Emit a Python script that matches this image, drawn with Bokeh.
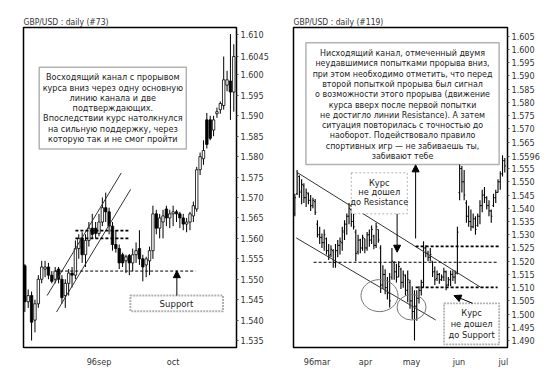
from bokeh.plotting import figure
from bokeh.layouts import row
from bokeh.models import Range1d, FixedTicker, BoxAnnotation, Label, Arrow, NormalHead, ColumnDataSource
from bokeh.core.properties import value
from bokeh.embed import file_html
from bokeh.resources import INLINE

FONT = "'DejaVu Sans Condensed', 'Liberation Sans', sans-serif"

# ---------------- Left panel (#73): daily candles ----------------
L_open = [1.5533, 1.5445, 1.5460, 1.5400, 1.5440, 1.5500, 1.5525, 1.5530, 1.5510, 1.5500,
          1.5525, 1.5500, 1.5460, 1.5490, 1.5515, 1.5510, 1.5575, 1.5600, 1.5560, 1.5595,
          1.5625, 1.5625, 1.5612, 1.5640, 1.5675, 1.5665, 1.5630, 1.5585, 1.5575, 1.5560,
          1.5545, 1.5558, 1.5540, 1.5560, 1.5575, 1.5550, 1.5535, 1.5545, 1.5570, 1.5660,
          1.5625, 1.5640, 1.5672, 1.5650, 1.5660, 1.5665, 1.5660, 1.5650, 1.5635, 1.5640,
          1.5655, 1.5672, 1.5768, 1.5795, 1.5890, 1.5890, 1.5865, 1.5905, 1.5915, 1.5925,
          1.5975, 1.5985, 1.5958]
L_high = [1.5537, 1.5475, 1.5470, 1.5450, 1.5510, 1.5545, 1.5545, 1.5540, 1.5520, 1.5530,
          1.5530, 1.5510, 1.5500, 1.5525, 1.5530, 1.5595, 1.5610, 1.5615, 1.5610, 1.5640,
          1.5660, 1.5640, 1.5660, 1.5700, 1.5712, 1.5675, 1.5640, 1.5620, 1.5585, 1.5565,
          1.5560, 1.5562, 1.5575, 1.5590, 1.5620, 1.5560, 1.5555, 1.5580, 1.5680, 1.5670,
          1.5660, 1.5670, 1.5680, 1.5670, 1.5680, 1.5670, 1.5665, 1.5660, 1.5650, 1.5665,
          1.5690, 1.5775, 1.5810, 1.5840, 1.5907, 1.5900, 1.5900, 1.5920, 1.5935, 1.6045,
          1.6010, 1.6100, 1.6075]
L_low = [1.5420, 1.5430, 1.5350, 1.5370, 1.5430, 1.5490, 1.5505, 1.5500, 1.5490, 1.5490,
         1.5490, 1.5440, 1.5430, 1.5460, 1.5480, 1.5500, 1.5550, 1.5540, 1.5530, 1.5580,
         1.5600, 1.5600, 1.5605, 1.5630, 1.5640, 1.5610, 1.5570, 1.5565, 1.5525, 1.5530,
         1.5515, 1.5510, 1.5520, 1.5540, 1.5535, 1.5495, 1.5505, 1.5510, 1.5550, 1.5610,
         1.5600, 1.5600, 1.5630, 1.5625, 1.5630, 1.5640, 1.5625, 1.5620, 1.5615, 1.5620,
         1.5640, 1.5665, 1.5755, 1.5780, 1.5820, 1.5840, 1.5850, 1.5895, 1.5905, 1.5915,
         1.5960, 1.5890, 1.5910]
L_close = [1.5445, 1.5460, 1.5395, 1.5440, 1.5500, 1.5530, 1.5530, 1.5510, 1.5495, 1.5520,
           1.5500, 1.5455, 1.5490, 1.5515, 1.5510, 1.5575, 1.5600, 1.5560, 1.5595, 1.5625,
           1.5610, 1.5612, 1.5640, 1.5675, 1.5665, 1.5630, 1.5585, 1.5575, 1.5540, 1.5540,
           1.5555, 1.5540, 1.5560, 1.5570, 1.5550, 1.5530, 1.5550, 1.5570, 1.5660, 1.5625,
           1.5650, 1.5655, 1.5650, 1.5660, 1.5665, 1.5660, 1.5650, 1.5635, 1.5640, 1.5660,
           1.5680, 1.5768, 1.5800, 1.5815, 1.5830, 1.5845, 1.5890, 1.5910, 1.5930, 1.5988,
           1.5988, 1.5958, 1.6045]
L_xticks = [22, 44]
L_xlabels = ["96sep", "oct"]
L_yticks = [1.535, 1.540, 1.545, 1.550, 1.555, 1.560, 1.565, 1.570, 1.575, 1.580,
            1.585, 1.590, 1.595, 1.600, 1.6045, 1.610]
L_ylabels = ["1.535", "1.540", "1.545", "1.550", "1.555", "1.560", "1.565", "1.570", "1.575", "1.580",
             "1.585", "1.590", "1.595", "1.600", "1.6045", "1.610"]
L_title = "GBP/USD : daily   (#73)"
L_note = ["Восходящий канал с прорывом",
          "курса вниз через одну основную",
          "линию канала и две",
          "подтверждающих.",
          "Впоследствии курс натолкнулся",
          "на сильную поддержку, через",
          "которую так и не смог пройти"]

# ---------------- Right panel (#119): daily OHLC bars ----------------
R_open = [1.5380, 1.5455, 1.5520, 1.5465, 1.5485, 1.5440, 1.5455, 1.5430, 1.5410, 1.5425,
          1.5340, 1.5300, 1.5290, 1.5270, 1.5285, 1.5240, 1.5225, 1.5240, 1.5195, 1.5240,
          1.5260, 1.5270, 1.5310, 1.5340, 1.5370, 1.5395, 1.5350, 1.5310, 1.5235, 1.5280,
          1.5250, 1.5285, 1.5250, 1.5300, 1.5280, 1.5295, 1.5260, 1.5320, 1.5250, 1.5110,
          1.5150, 1.5100, 1.5080, 1.5140, 1.5195, 1.5160, 1.5140, 1.5170, 1.5120, 1.5145,
          1.5090, 1.5120, 1.5050, 1.5010, 1.5030, 1.5060, 1.5090, 1.5120, 1.5250, 1.5230,
          1.5215, 1.5200, 1.5160, 1.5135, 1.5150, 1.5130, 1.5140, 1.5160, 1.5110, 1.5130,
          1.5150, 1.5140, 1.5155, 1.5460, 1.5550, 1.5500, 1.5420, 1.5370, 1.5350, 1.5330,
          1.5360, 1.5335, 1.5370, 1.5410, 1.5450, 1.5440, 1.5410, 1.5390, 1.5410, 1.5440,
          1.5460, 1.5500, 1.5530, 1.5580]
R_high = [1.5455, 1.5545, 1.5525, 1.5510, 1.5495, 1.5475, 1.5460, 1.5450, 1.5440, 1.5435,
          1.5355, 1.5330, 1.5305, 1.5320, 1.5290, 1.5265, 1.5260, 1.5245, 1.5265, 1.5280,
          1.5290, 1.5330, 1.5355, 1.5380, 1.5420, 1.5400, 1.5380, 1.5320, 1.5300, 1.5285,
          1.5300, 1.5285, 1.5310, 1.5320, 1.5335, 1.5300, 1.5345, 1.5320, 1.5260, 1.5185,
          1.5170, 1.5140, 1.5155, 1.5250, 1.5200, 1.5190, 1.5200, 1.5175, 1.5165, 1.5150,
          1.5165, 1.5130, 1.5105, 1.5090, 1.5090, 1.5105, 1.5130, 1.5275, 1.5260, 1.5240,
          1.5250, 1.5200, 1.5180, 1.5165, 1.5155, 1.5150, 1.5175, 1.5165, 1.5140, 1.5165,
          1.5165, 1.5165, 1.5330, 1.5575, 1.5560, 1.5545, 1.5430, 1.5410, 1.5395, 1.5380,
          1.5370, 1.5380, 1.5430, 1.5470, 1.5480, 1.5445, 1.5430, 1.5395, 1.5455, 1.5470,
          1.5510, 1.5540, 1.5600, 1.5590]
R_low = [1.5370, 1.5450, 1.5440, 1.5415, 1.5420, 1.5405, 1.5415, 1.5390, 1.5400, 1.5375,
         1.5290, 1.5265, 1.5250, 1.5240, 1.5225, 1.5205, 1.5215, 1.5175, 1.5175, 1.5215,
         1.5225, 1.5240, 1.5280, 1.5300, 1.5340, 1.5330, 1.5320, 1.5200, 1.5225, 1.5230,
         1.5240, 1.5230, 1.5240, 1.5255, 1.5265, 1.5245, 1.5250, 1.5270, 1.5080, 1.5095,
         1.5075, 1.5055, 1.5025, 1.5130, 1.5130, 1.5120, 1.5140, 1.5095, 1.5100, 1.5070,
         1.5045, 1.5020, 1.4980, 1.4900, 1.4975, 1.5040, 1.5070, 1.5100, 1.5215, 1.5200,
         1.5200, 1.5140, 1.5110, 1.5125, 1.5115, 1.5125, 1.5125, 1.5090, 1.5105, 1.5105,
         1.5125, 1.5115, 1.5150, 1.5430, 1.5460, 1.5430, 1.5345, 1.5330, 1.5315, 1.5325,
         1.5300, 1.5330, 1.5340, 1.5385, 1.5420, 1.5395, 1.5370, 1.5345, 1.5405, 1.5420,
         1.5460, 1.5470, 1.5520, 1.5535]
R_close = [1.5440, 1.5530, 1.5460, 1.5490, 1.5440, 1.5460, 1.5430, 1.5410, 1.5430, 1.5385,
           1.5300, 1.5290, 1.5270, 1.5300, 1.5240, 1.5220, 1.5245, 1.5195, 1.5240, 1.5260,
           1.5275, 1.5315, 1.5340, 1.5370, 1.5400, 1.5350, 1.5330, 1.5230, 1.5280, 1.5250,
           1.5290, 1.5250, 1.5300, 1.5280, 1.5320, 1.5260, 1.5330, 1.5280, 1.5110, 1.5150,
           1.5100, 1.5080, 1.5050, 1.5200, 1.5160, 1.5140, 1.5180, 1.5120, 1.5150, 1.5090,
           1.5130, 1.5050, 1.5010, 1.5030, 1.5060, 1.5090, 1.5120, 1.5250, 1.5230, 1.5215,
           1.5225, 1.5160, 1.5130, 1.5150, 1.5130, 1.5140, 1.5160, 1.5110, 1.5130, 1.5150,
           1.5140, 1.5155, 1.5310, 1.5550, 1.5500, 1.5450, 1.5370, 1.5350, 1.5330, 1.5360,
           1.5320, 1.5370, 1.5410, 1.5450, 1.5440, 1.5410, 1.5390, 1.5370, 1.5440, 1.5460,
           1.5500, 1.5530, 1.5580, 1.5560]
R_xticks = [9.8, 31.3, 51.7, 72.7, 92.4]
R_xlabels = ["96mar", "apr", "may", "jun", "jul"]
R_yticks = [1.490, 1.495, 1.500, 1.505, 1.510, 1.515, 1.520, 1.525, 1.530, 1.535, 1.540,
            1.545, 1.550, 1.555, 1.5596, 1.565, 1.570, 1.575, 1.580, 1.585, 1.590, 1.595,
            1.600, 1.605]
R_ylabels = ["1.490", "1.495", "1.500", "1.505", "1.510", "1.515", "1.520", "1.525", "1.530",
             "1.535", "1.540", "1.545", "1.550", "1.555", "1.5596", "1.565", "1.570", "1.575",
             "1.580", "1.585", "1.590", "1.595", "1.600", "1.605"]
R_title = "GBP/USD : daily   (#119)"
R_note = ["Нисходящий канал, отмеченный двумя",
          "неудавшимися попытками прорыва вниз,",
          "при этом необходимо отметить, что перед",
          "второй попыткой прорыва был сигнал",
          "о возможности этого прорыва (движение",
          "курса вверх после первой попытки",
          "не достигло линии Resistance). А затем",
          "ситуация повторилась с точностью до",
          "наоборот. Подействовало правило",
          "спортивных игр — не забиваешь ты,",
          "забивают тебе"]
R_res_note = ["Курс", "не дошел", "до Resistance"]
R_sup_note = ["Курс", "не дошел", "до Support"]


def style(p, xticks, xlabels, yticks, ylabels, title):
    p.title.text = title
    p.title.text_font = FONT
    p.title.text_font_size = "8.5px"
    p.title.text_font_style = "normal"
    p.title.text_color = "#333333"
    p.title.align = "left"
    p.title.standoff = 1
    p.xgrid.visible = False
    p.ygrid.visible = False
    p.outline_line_color = "black"
    p.outline_line_width = 1.5
    p.background_fill_color = "white"
    p.border_fill_color = "white"
    xa = p.xaxis[0]
    xa.ticker = FixedTicker(ticks=xticks)
    xa.major_label_overrides = dict(zip(xticks, xlabels))
    xa.axis_line_color = None
    xa.major_tick_line_color = None
    xa.minor_tick_line_color = None
    xa.major_label_standoff = 3
    xa.major_label_text_font = FONT
    xa.major_label_text_font_size = "9px"
    xa.major_label_text_color = "#333333"
    ya = p.yaxis[0]
    ya.ticker = FixedTicker(ticks=yticks)
    ya.major_label_overrides = dict(zip(yticks, ylabels))
    ya.axis_line_color = None
    ya.major_tick_out = 2
    ya.major_tick_in = 0
    ya.major_tick_line_color = "#555555"
    ya.minor_tick_line_color = None
    ya.major_label_standoff = 2
    ya.major_label_text_font = FONT
    ya.major_label_text_font_size = "9px"
    ya.major_label_text_color = "#333333"


def add_lines(p, x, y, lines, size, step):
    for k, t in enumerate(lines):
        p.add_layout(Label(x=x, y=y - k * step, text=t, text_align="center", text_baseline="middle",
                           text_font=FONT, text_font_size=size, text_color="#222222"))


# ---------- Left figure ----------
p1 = figure(width=280, height=373, x_range=Range1d(-0.4, 62.8), y_range=Range1d(1.5333, 1.6116),
            output_backend="svg", toolbar_location=None, y_axis_location="right",
            min_border_left=23, min_border_right=44, min_border_top=27, min_border_bottom=26)
style(p1, L_xticks, L_xlabels, L_yticks, L_ylabels, L_title)

lx = list(range(len(L_open)))
src1 = ColumnDataSource(dict(
    x=lx, o=L_open, h=L_high, l=L_low, c=L_close,
    top=[max(a, b) for a, b in zip(L_open, L_close)],
    bot=[min(a, b) for a, b in zip(L_open, L_close)],
    fill=["white" if c >= o else "black" for o, c in zip(L_open, L_close)]))
p1.segment(x0="x", y0="l", x1="x", y1="h", source=src1, line_color="black", line_width=1)
p1.vbar(x="x", width=0.72, top="top", bottom="bot", fill_color="fill", line_color="black",
        line_width=0.8, source=src1)

# channel lines
p1.segment(x0=[6.6, 9.4], y0=[1.5460, 1.5420], x1=[28.6, 31.4], y1=[1.5760, 1.5720],
           line_color="#333333", line_width=1)
# short dashed lines
p1.segment(x0=[15, 15], y0=[1.5619, 1.5600], x1=[31.1, 31.1], y1=[1.5619, 1.5600],
           line_color="black", line_width=1.8, line_dash="3 2")
# support line
p1.segment(x0=[9.0], y0=[1.5520], x1=[50.6], y1=[1.5520], line_color="black", line_width=1,
           line_dash="3 2")

p1.add_layout(BoxAnnotation(left=4.26, right=47.9, top=1.6019, bottom=1.5819, fill_color="white",
                            fill_alpha=1, line_color="black", line_width=1.5))
add_lines(p1, 26.1, 1.5994, L_note, "9px", 0.002512)

p1.add_layout(BoxAnnotation(left=31.3, right=58.8, top=1.5460, bottom=1.5422, fill_color="white",
                            fill_alpha=1, line_color="black", line_width=2, line_dash="2 1"))
p1.add_layout(Label(x=45.0, y=1.5441, text="Support", text_align="center", text_baseline="middle",
                    text_font=FONT, text_font_size="9.5px", text_color="#222222"))
p1.add_layout(Arrow(x_start=45.1, y_start=1.5460, x_end=45.1, y_end=1.5521, line_color="black",
                    line_width=1, end=NormalHead(size=7, fill_color="black", line_color="black")))

# ---------- Right figure ----------
p2 = figure(width=278, height=373, x_range=Range1d(-0.6, 94.2), y_range=Range1d(1.4874, 1.6083),
            output_backend="svg", toolbar_location=None, y_axis_location="right",
            min_border_left=13, min_border_right=51, min_border_top=27, min_border_bottom=26)
style(p2, R_xticks, R_xlabels, R_yticks, R_ylabels, R_title)

rx = list(range(len(R_open)))
src2 = ColumnDataSource(dict(
    x=rx, o=R_open, h=R_high, l=R_low, c=R_close,
    xl=[v - 0.5 for v in rx], xr=[v + 0.5 for v in rx]))
p2.segment(x0="x", y0="l", x1="x", y1="h", source=src2, line_color="black", line_width=1.1)
p2.segment(x0="xl", y0="o", x1="x", y1="o", source=src2, line_color="black", line_width=1)
p2.segment(x0="x", y0="c", x1="xr", y1="c", source=src2, line_color="black", line_width=1)

# channel lines
p2.segment(x0=[0.9, 0.6], y0=[1.5536, 1.5288], x1=[82.4, 62.4], y1=[1.5101, 1.4978],
           line_color="#333333", line_width=1)
# dashed levels
p2.segment(x0=[8.3], y0=[1.5196], x1=[89.8], y1=[1.5196], line_color="black", line_width=1,
           line_dash="3 2")
p2.segment(x0=[53.5, 53.5], y0=[1.5256, 1.5101], x1=[90.5, 89.8], y1=[1.5256, 1.5101],
           line_color="black", line_width=1.8, line_dash="3 2")
# ellipses
p2.ellipse(x=[37.5, 51.7], y=[1.5070, 1.5026], width=[37, 29], height=[32, 25.5],
           width_units="screen", height_units="screen", fill_color=None, line_color="#777777",
           line_width=1)

p2.add_layout(BoxAnnotation(left=4.9, right=90.5, top=1.6025, bottom=1.5565, fill_color="white",
                            fill_alpha=1, line_color="black", line_width=1.5))
add_lines(p2, 47.7, 1.5986, R_note, "8.8px", 0.003882)
p2.add_layout(Arrow(x_start=53.5, y_start=1.5286, x_end=53.5, y_end=1.5564, line_color="black",
                    line_width=1, end=NormalHead(size=7, fill_color="black", line_color="black")))

p2.add_layout(BoxAnnotation(left=25.0, right=49.8, top=1.5534, bottom=1.5379, fill_color="white",
                            fill_alpha=1, line_color="black", line_width=1, line_dash="2 2"))
add_lines(p2, 37.4, 1.5498, R_res_note, "9.2px", 0.00365)
p2.add_layout(Arrow(x_start=45.3, y_start=1.5379, x_end=45.3, y_end=1.5234, line_color="black",
                    line_width=1, end=NormalHead(size=7, fill_color="black", line_color="black")))

p2.add_layout(BoxAnnotation(left=66.1, right=90.5, top=1.5041, bottom=1.4886, fill_color="white",
                            fill_alpha=1, line_color="black", line_width=1.8, line_dash="2 1"))
add_lines(p2, 78.3, 1.5005, R_sup_note, "9.2px", 0.0040)
p2.add_layout(Arrow(x_start=78.7, y_start=1.5041, x_end=70.5, y_end=1.5070, line_color="black",
                    line_width=1, end=NormalHead(size=7, fill_color="black", line_color="black")))

layout = row(p1, p2, spacing=0)
open("out.html", "w").write(file_html(layout, INLINE))
